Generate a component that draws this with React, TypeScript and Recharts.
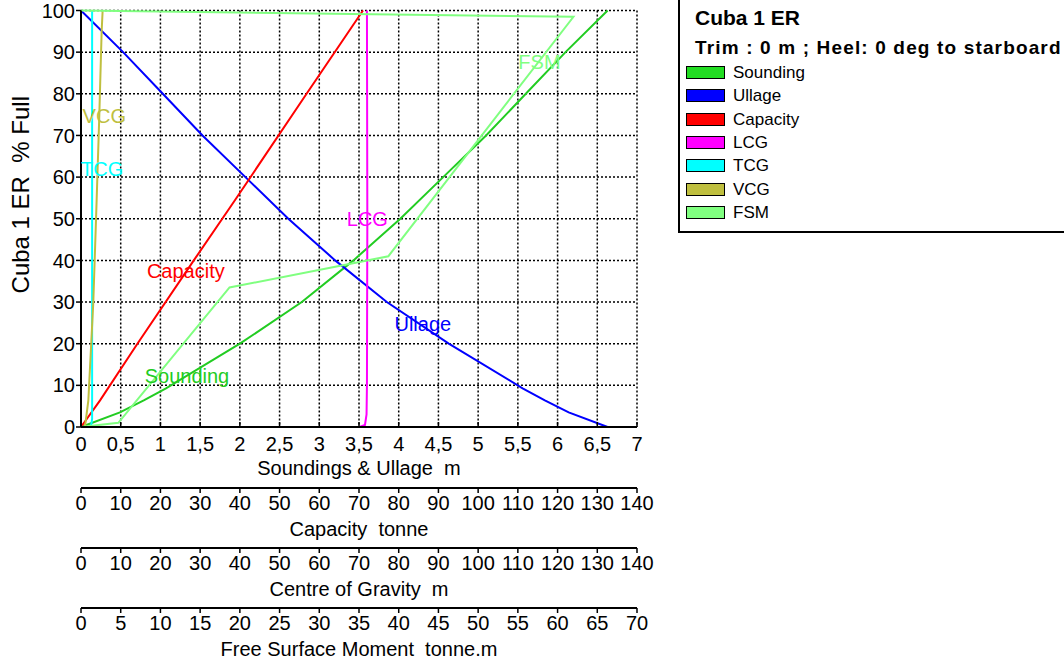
import { LineChart, Line, XAxis, YAxis, CartesianGrid } from 'recharts'

const FONT = '"Liberation Sans", Arial, sans-serif'

// % full levels and the values
const soundingPct = [0, 3.5, 6.4, 9.3, 20, 30, 40, 50, 60, 70, 80, 90, 100]
const soundingM = [0, 0.49, 0.79, 1.07, 2.0, 2.78, 3.43, 4.02, 4.56, 5.1, 5.6, 6.1, 6.63]
const ullageM = [6.63, 6.14, 5.84, 5.56, 4.63, 3.85, 3.2, 2.61, 2.07, 1.53, 1.03, 0.53, 0]

const capacityPct = [0, 6.4, 20, 40, 54.5, 80, 100]
const capacityT = [0, 4.8, 14.2, 28.4, 38.8, 56.8, 71]

const lcgPct = [0, 0.5, 3, 10, 50, 100]
const lcgM = [70.1, 71.5, 71.9, 72.0, 72.1, 72.0]

const tcgPct = [0, 2, 30, 62, 100]
const tcgM = [2.5, 2.8, 2.8, 2.8, 2.8]

const vcgPct = [0, 6.4, 30, 54.5, 74.5, 95, 100]
const vcgM = [1.0, 1.85, 3.1, 3.94, 4.6, 5.2, 5.45]

const fsmPct = [0, 1, 33.5, 41, 98.5, 100]
const fsmTm = [0, 4.7, 18.7, 38.7, 62.0, 0]

const pctTicks = [0, 10, 20, 30, 40, 50, 60, 70, 80, 90, 100]
const soundingTicks = [0, 0.5, 1, 1.5, 2, 2.5, 3, 3.5, 4, 4.5, 5, 5.5, 6, 6.5, 7]
const capacityTicks = [0, 10, 20, 30, 40, 50, 60, 70, 80, 90, 100, 110, 120, 130, 140]
const cgTicks = [0, 10, 20, 30, 40, 50, 60, 70, 80, 90, 100, 110, 120, 130, 140]
const fsmTicks = [0, 5, 10, 15, 20, 25, 30, 35, 40, 45, 50, 55, 60, 65, 70]

const zip = (xs: number[], ys: number[]) => xs.map((x, i) => ({ x, y: ys[i] }))

// axis ids: a = soundings/ullage, b = capacity, c = centre of gravity, d = FSM
const series = [
  { name: 'Sounding', color: '#22cc22', swatch: '#22dd22', axis: 'a', data: zip(soundingM, soundingPct), at: 3, dx: 21, dy: -12 },
  { name: 'Ullage', color: '#0000ff', swatch: '#0000ff', axis: 'a', data: zip(ullageM, soundingPct), at: 5, dx: 36, dy: 22 },
  { name: 'Capacity', color: '#ff0000', swatch: '#ff0000', axis: 'b', data: zip(capacityT, capacityPct), at: 3, dx: -8, dy: 11 },
  { name: 'LCG', color: '#ff00ff', swatch: '#ff00ff', axis: 'c', data: zip(lcgM, lcgPct), at: 4, dx: 0, dy: 0 },
  { name: 'TCG', color: '#00ffff', swatch: '#00ffff', axis: 'c', data: zip(tcgM, tcgPct), at: 3, dx: 10, dy: 0 },
  { name: 'VCG', color: '#bfbf3f', swatch: '#bfbf3f', axis: 'c', data: zip(vcgM, vcgPct), at: 4, dx: 5, dy: -1 },
  { name: 'FSM', color: '#80ff80', swatch: '#80ff80', axis: 'd', data: zip(fsmTm, fsmPct), at: 4, dx: -34, dy: 45 },
]

const tickStyle = { fill: '#000', fontSize: 20, fontFamily: FONT }
const axisLine = { stroke: '#000', strokeWidth: 2 }
const tickLine = { stroke: '#000', strokeWidth: 1.5 }

function AxisTitle(props: any) {
  const { viewBox, text } = props
  const { x, y, width } = viewBox
  return (
    <text
      x={x + width / 2}
      y={y + 41}
      textAnchor="middle"
      dominantBaseline="central"
      fontSize={20}
      fontFamily={FONT}
      fill="#000"
      style={{ whiteSpace: 'pre' }}
    >
      {text}
    </text>
  )
}

function YTitle(props: any) {
  const { viewBox } = props
  const cx = viewBox.x + 20
  const cy = viewBox.y + viewBox.height / 2 - 24
  return (
    <text
      x={cx}
      y={cy}
      transform={`rotate(-90 ${cx} ${cy})`}
      textAnchor="middle"
      dominantBaseline="central"
      fontSize={24}
      fontFamily={FONT}
      fill="#000"
      style={{ whiteSpace: 'pre' }}
    >
      Cuba 1 ER  % Full
    </text>
  )
}

function curveLabel(s: (typeof series)[number]) {
  return (props: any) => {
    if (props.index !== s.at) return null
    return (
      <text
        x={props.x + s.dx}
        y={props.y + s.dy}
        textAnchor="middle"
        dominantBaseline="central"
        fontSize={20}
        fontFamily={FONT}
        fill={s.color}
      >
        {s.name}
      </text>
    )
  }
}

function LegendBox() {
  return (
    <div
      style={{
        position: 'absolute',
        left: 678,
        top: -2,
        width: 400,
        height: 235,
        border: '2px solid #000',
        boxSizing: 'border-box',
        background: '#fff',
        fontFamily: FONT,
        color: '#000',
      }}
    >
      <div style={{ position: 'absolute', left: 15, top: 6, fontSize: 21, fontWeight: 'bold', lineHeight: '24px' }}>
        Cuba 1 ER
      </div>
      <div
        style={{
          position: 'absolute',
          left: 15,
          top: 36,
          fontSize: 19,
          fontWeight: 'bold',
          lineHeight: '24px',
          letterSpacing: 1.15,
          whiteSpace: 'pre',
        }}
      >
        Trim : 0 m ; Heel: 0 deg to starboard
      </div>
      {series.map((s, i) => {
        const cy = 73 + i * 23.3
        return (
          <div key={s.name}>
            <div
              style={{
                position: 'absolute',
                left: 6,
                top: cy - 7,
                width: 39,
                height: 13,
                background: s.swatch,
                border: '1.5px solid #000',
                boxSizing: 'border-box',
              }}
            />
            <div style={{ position: 'absolute', left: 53, top: cy - 10, fontSize: 17, lineHeight: '20px' }}>
              {s.name}
            </div>
          </div>
        )
      })}
    </div>
  )
}

export default function App() {
  return (
    <div style={{ position: 'absolute', left: 0, top: 0, width: 1064, height: 664, background: '#fff' }}>
      <LineChart width={664} height={664} margin={{ top: 10.5, right: 27, bottom: 0, left: 0 }}>
        <CartesianGrid xAxisId="a" stroke="#000" strokeWidth={1.5} strokeDasharray="2 2" />
        <YAxis
          type="number"
          domain={[0, 100]}
          ticks={pctTicks}
          interval={0}
          width={81}
          tick={tickStyle}
          tickSize={5}
          tickMargin={1}
          axisLine={axisLine}
          tickLine={tickLine}
          label={(p: any) => <YTitle {...p} />}
        />
        <XAxis
          xAxisId="a"
          type="number"
          dataKey="x"
          domain={[0, 7]}
          ticks={soundingTicks}
          interval={0}
          height={61}
          tick={tickStyle}
          tickSize={-5}
          tickMargin={15}
          tickFormatter={(v: number) => String(v).replace('.', ',')}
          axisLine={axisLine}
          tickLine={tickLine}
          label={(p: any) => <AxisTitle {...p} text="Soundings & Ullage  m" />}
        />
        <XAxis
          xAxisId="b"
          type="number"
          dataKey="x"
          domain={[0, 140]}
          ticks={capacityTicks}
          interval={0}
          height={60}
          tick={tickStyle}
          tickSize={5}
          tickMargin={3}
          axisLine={axisLine}
          tickLine={tickLine}
          label={(p: any) => <AxisTitle {...p} text="Capacity  tonne" />}
        />
        <XAxis
          xAxisId="c"
          type="number"
          dataKey="x"
          domain={[0, 140]}
          ticks={cgTicks}
          interval={0}
          height={60}
          tick={tickStyle}
          tickSize={5}
          tickMargin={3}
          axisLine={axisLine}
          tickLine={tickLine}
          label={(p: any) => <AxisTitle {...p} text="Centre of Gravity  m" />}
        />
        <XAxis
          xAxisId="d"
          type="number"
          dataKey="x"
          domain={[0, 70]}
          ticks={fsmTicks}
          interval={0}
          height={56}
          tick={tickStyle}
          tickSize={5}
          tickMargin={3}
          axisLine={axisLine}
          tickLine={tickLine}
          label={(p: any) => <AxisTitle {...p} text="Free Surface Moment  tonne.m" />}
        />
        {series.map((s) => (
          <Line
            key={s.name}
            xAxisId={s.axis}
            data={s.data}
            dataKey="y"
            type="linear"
            stroke={s.color}
            strokeWidth={2}
            dot={false}
            activeDot={false}
            isAnimationActive={false}
            label={curveLabel(s)}
          />
        ))}
      </LineChart>
      <LegendBox />
    </div>
  )
}
